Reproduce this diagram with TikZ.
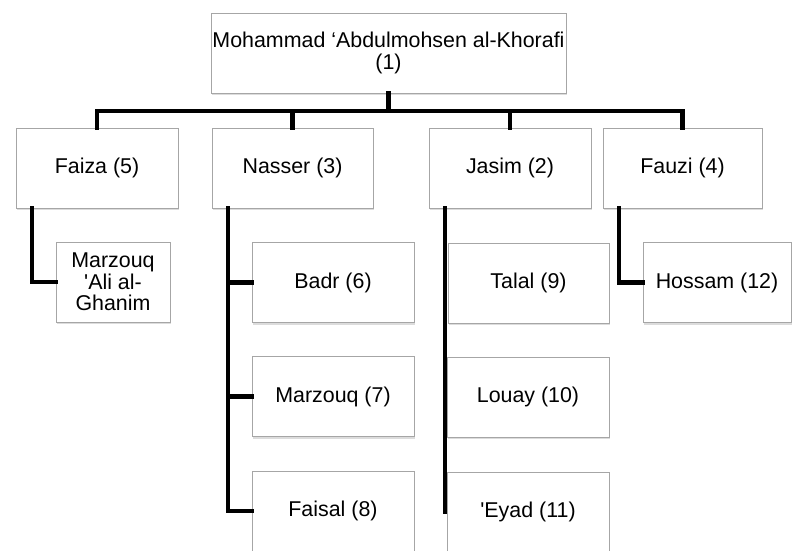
\documentclass[tikz,border=0pt]{standalone}
\usepackage{fontspec}
\setmainfont{Liberation Sans}
\usetikzlibrary{shadows}
\begin{document}
\begin{tikzpicture}[x=1pt,y=-1pt,
	person/.style={draw=gray!70, line width=0.8pt, fill=white, inner sep=0pt, align=center,
		font=\fontsize{21.4}{22.5}\selectfont,
		drop shadow={shadow xshift=1.2pt, shadow yshift=-2pt, fill=gray!60, opacity=0.45}},
	link/.style={line width=4.2pt, line cap=rect}]

\useasboundingbox (0,0) rectangle (792,550);
\clip (0,0) rectangle (792,550);

	\node[person, minimum width=355pt, minimum height=80pt] (top) at (388.5,53) {Mohammad ‘Abdulmohsen al-Khorafi\\(1)};

	\node[person, minimum width=162pt, minimum height=80pt] (faiza) at (97,168) {Faiza (5)};
	\node[person, minimum width=161pt, minimum height=80pt] (nasser) at (292.5,168) {Nasser (3)};
	\node[person, minimum width=162pt, minimum height=80pt] (jasim) at (510,168) {Jasim (2)};
	\node[person, minimum width=159pt, minimum height=80pt] (fauzi) at (682.5,168) {Fauzi (4)};

	\node[person, minimum width=114pt, minimum height=80pt, font=\fontsize{21.4}{21.5}\selectfont] (ghanim) at (113,282) {Marzouq\\\textquotesingle Ali al-\\Ghanim};

	\node[person, minimum width=162pt, minimum height=80pt] (badr) at (333,282.5) {Badr (6)};
	\node[person, minimum width=162pt, minimum height=80pt] (marzouq) at (333,396.5) {Marzouq (7)};
	\node[person, minimum width=162pt, minimum height=80pt] (faisal) at (333,511) {Faisal (8)};

	\node[person, minimum width=161pt, minimum height=80pt] (talal) at (528.5,283) {Talal (9)};
	\node[person, minimum width=162pt, minimum height=80pt] (louay) at (528,397) {Louay (10)};
	\node[person, minimum width=162pt, minimum height=80pt] (eyad) at (528,512) {\textquotesingle Eyad (11)};

	\node[person, minimum width=148pt, minimum height=80pt] (hossam) at (717,282.5) {Hossam (12)};

	\coordinate (bus) at (388.5,111);
	\draw[link] (top.south) -- (bus);
	\draw[link] (faiza.north) |- (bus) -| (fauzi.north);
	\draw[link] (nasser.north) -- (nasser.north |- bus);
	\draw[link] (jasim.north) -- (jasim.north |- bus);

	\draw[link] ([xshift=16pt]faiza.south west) |- (ghanim.west);
	\draw[link] ([xshift=16pt]nasser.south west) |- (faisal.west);
	\draw[link] ([xshift=16pt]nasser.south west) |- (badr.west);
	\draw[link] ([xshift=16pt]nasser.south west) |- (marzouq.west);
	\draw[link] ([xshift=16pt]jasim.south west) -- ([xshift=16pt]jasim.south west |- eyad.west);
	\draw[link] ([xshift=16pt]fauzi.south west) |- (hossam.west);

\end{tikzpicture}
\end{document}
